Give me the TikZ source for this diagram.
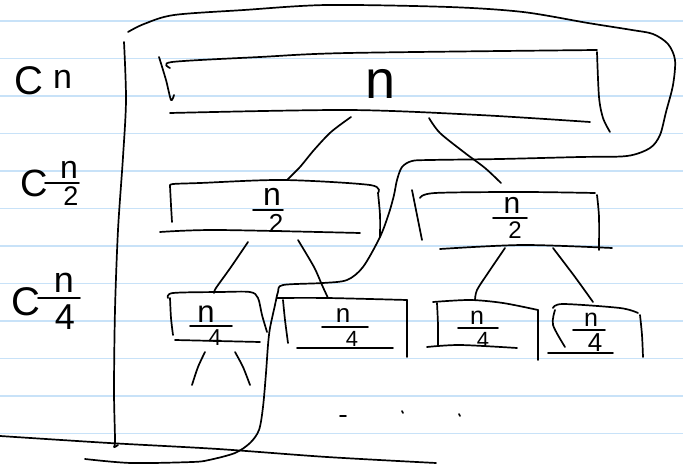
\documentclass[tikz,border=0pt]{standalone}
\usepackage{fontspec}
\setmainfont{Liberation Sans}
\definecolor{paper}{RGB}{200,226,248}
\newcommand\fs[1]{\fontsize{#1}{#1}\selectfont}
% #1 name, #2 bar centre x, #3 bar y, #4 bar half width, #5 numerator x, #6 denominator x, #7 num size, #8 den size, #9 digit
\newcommand\FR[9]{%
  \draw[pen] (#2-#4,#3) -- (#2+#4,#3);
  \node[txt,anchor=south,font=\fs{#7}] (#1n) at (#5,#3-4) {n};
  \node[txt,anchor=north,font=\fs{#8}] (#1d) at (#6,#3+4) {#9};}
\begin{document}
\begin{tikzpicture}[x=1pt,y=-1pt,
  pen/.style={line width=1.7pt,line cap=round,line join=round},
  ruling/.style={line width=1.1pt,draw=paper},
  txt/.style={inner sep=0pt,outer sep=0pt}]
\useasboundingbox (0,0) rectangle (683,465);
\fill[white] (0,0) rectangle (683,465);
\foreach \k in {0,...,11} \draw[ruling] (0,21+37.5*\k) -- (683,21+37.5*\k);

% ---- row labels
\node[txt,anchor=base west,font=\fs{40}] (c1) at (14,95) {C};
\node[txt,anchor=base west,font=\fs{34}] (c1n) at (53,89) {n};
\node[txt,anchor=base west,font=\fs{38}] (c2) at (20,197) {C};
\FR{l2}{62}{183}{17}{69}{71}{32}{27}{2}
\node[txt,anchor=base west,font=\fs{40}] (c3) at (12,315) {C};
\draw[pen] (38,298) -- (80,298);
\node[txt,anchor=south,font=\fs{36}] (l3n) at (64,293) {n};
\node[txt,anchor=north,font=\fs{36}] (l3d) at (65,305) {4};

% ---- top box
\draw[pen] plot[smooth] coordinates {(170,68) (172,62) (260,57) (348,53) (597,50)};
\draw[pen] plot[smooth] coordinates {(159,57) (166,80) (171,100) (174,95)};
\draw[pen] plot[smooth] coordinates {(597,52) (599,97) (603,118) (610,132)};
\draw[pen] plot[smooth] coordinates {(170,113) (348,110) (479,115) (590,122)};
\node[txt,font=\fs{54}] (tn) at (381,84) {n};

% ---- second level boxes
\draw[pen] plot[smooth] coordinates {(170,186) (173,184) (200,183) (283,180) (370,185) (378,193)};
\draw[pen] plot[smooth] coordinates {(170,186) (171,205) (172,222)};
\draw[pen] plot[smooth] coordinates {(378,193) (380,215) (380,237)};
\draw[pen] plot[smooth] coordinates {(160,232) (217,230) (360,233)};
\FR{a}{268}{210}{15}{272}{276}{32}{26}{2}

\draw[pen] plot[smooth] coordinates {(412,190) (417,215) (422,240)};
\draw[pen] plot[smooth] coordinates {(420,198) (435,193) (523,192) (595,193)};
\draw[pen] plot[smooth] coordinates {(597,195) (599,217) (599,250)};
\draw[pen] plot[smooth] coordinates {(440,249) (523,245) (612,248)};
\FR{b}{510}{218}{17}{512}{515}{30}{24}{2}

% ---- third level boxes
\draw[pen] plot[smooth] coordinates {(168,298) (173,293) (220,292) (250,292) (258,298) (262,315) (267,332)};
\draw[pen] plot[smooth] coordinates {(170,298) (171,318) (173,335)};
\draw[pen] plot[smooth] coordinates {(175,340) (260,342)};
\FR{ba}{211}{326}{21}{206}{215}{31}{23}{4}

\draw[pen] plot[smooth] coordinates {(277,298) (327,298) (407,300)};
\draw[pen] plot[smooth] coordinates {(283,300) (285,320) (288,343)};
\draw[pen] plot[smooth] coordinates {(407,300) (407,330) (407,357)};
\draw[pen] plot[smooth] coordinates {(297,348) (393,348)};
\FR{bb}{345}{327}{23}{343}{352}{26}{22}{4}

\draw[pen] plot[smooth] coordinates {(433,302) (470,300) (503,303) (538,310)};
\draw[pen] plot[smooth] coordinates {(437,303) (438,325) (438,345)};
\draw[pen] plot[smooth] coordinates {(538,310) (538,335) (538,360)};
\draw[pen] plot[smooth] coordinates {(427,347) (460,345) (517,348)};
\FR{bc}{478}{328}{20}{477}{483}{25}{22}{4}

\draw[pen] plot[smooth] coordinates {(553,308) (563,304) (620,308) (638,313)};
\draw[pen] plot[smooth] coordinates {(555,310) (553,325) (565,347)};
\draw[pen] plot[smooth] coordinates {(640,315) (642,335) (643,357)};
\draw[pen] plot[smooth] coordinates {(548,353) (613,353)};
\FR{bd}{589}{330}{16}{591}{595}{25}{26}{4}

% ---- tree edges
\coordinate (e1a) at (351,117); \coordinate (e1b) at (287,180);
\coordinate (e2a) at (429,118); \coordinate (e2b) at (501,183);
\coordinate (e3a) at (248,242); \coordinate (e3b) at (214,293);
\coordinate (e4a) at (298,240); \coordinate (e4b) at (328,298);
\coordinate (e5a) at (505,248); \coordinate (e5b) at (475,300);
\coordinate (e6a) at (553,248); \coordinate (e6b) at (593,302);
\coordinate (e7a) at (205,352); \coordinate (e7b) at (192,385);
\coordinate (e8a) at (235,352); \coordinate (e8b) at (250,385);
\draw[pen] plot[smooth] coordinates {(e1a) (331,132) (314,150) (300,167) (e1b)};
\draw[pen] plot[smooth] coordinates {(e2a) (440,133) (465,153) (485,168) (e2b)};
\draw[pen] plot[smooth] coordinates {(e3a) (231,267) (216,288) (e3b)};
\draw[pen] plot[smooth] coordinates {(e4a) (314,267) (322,285) (e4b)};
\draw[pen] plot[smooth] coordinates {(e5a) (488,273) (477,290) (e5b)};
\draw[pen] plot[smooth] coordinates {(e6a) (575,277) (e6b)};
\draw[pen] plot[smooth] coordinates {(e7a) (198,367) (e7b)};
\draw[pen] plot[smooth] coordinates {(e8a) (243,367) (e8b)};

% ---- dots
\draw[pen] (340,416) -- (346,416);
\draw[pen] (402,411) -- (403,413);
\draw[pen] (459,414) -- (460,416);

% ---- left bracket and bottom line
\draw[pen] plot[smooth] coordinates {(124,42) (126,100) (123,157) (118,230) (115,310) (114,390) (115,440) (114,447) (118,445)};
\draw[pen] plot[smooth] coordinates {(0,436) (109,443) (218,449) (327,457) (436,463)};

% ---- big enclosing loop
\draw[pen] plot[smooth] coordinates {(128,32) (144,24) (174,15) (244,10) (327,5) (449,7) (523,12) (588,23) (632,30) (653,34) (668,44) (675,60) (673,85) (666,112) (660,135) (650,148) (627,156) (580,157) (500,159) (430,160) (412,161) (402,167) (397,180) (394,195) (389,213) (380,237) (363,267) (347,280) (323,283) (283,285) (278,292) (275,305) (270,328) (268,345) (266,373) (263,407) (259,430) (250,443) (235,453) (209,460) (192,462) (131,463) (85,459)};
\end{tikzpicture}
\end{document}
